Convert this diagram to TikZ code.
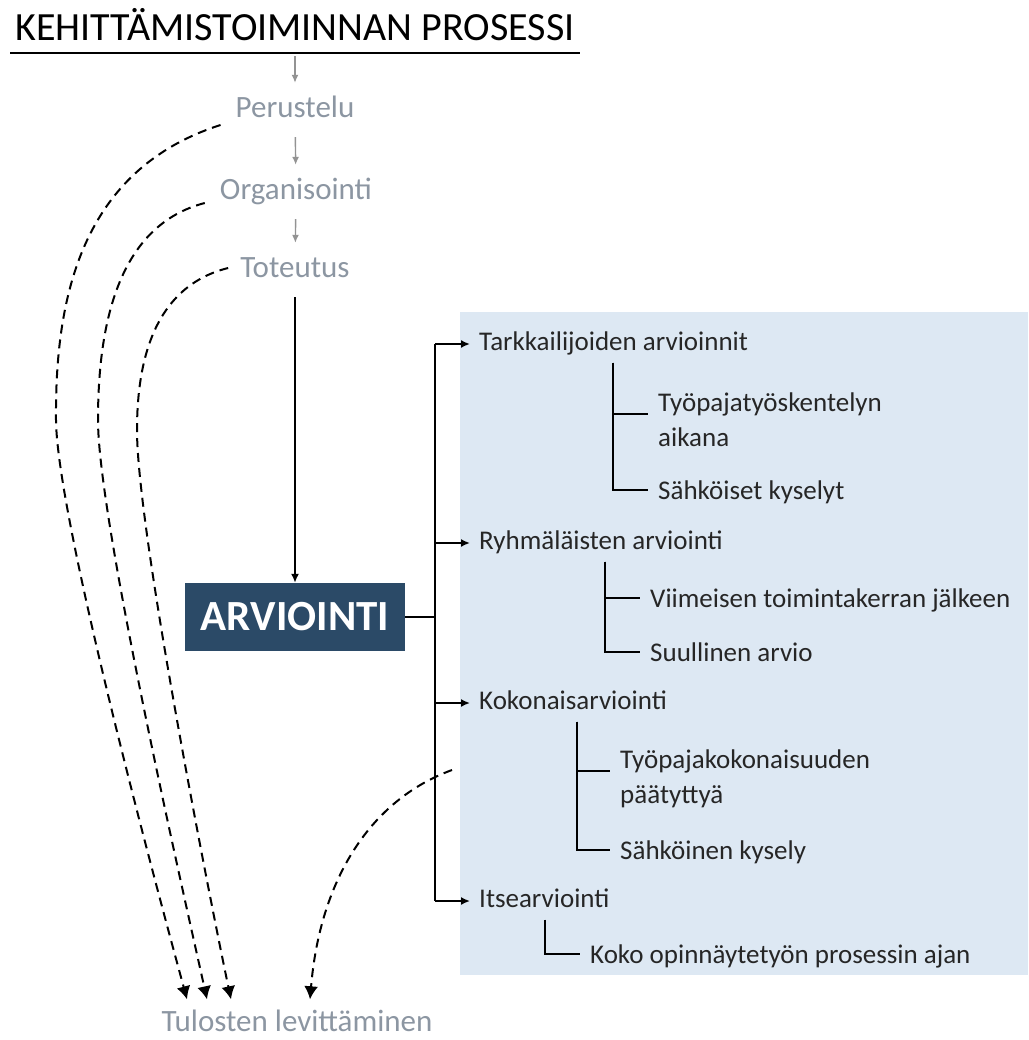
\documentclass[tikz,border=0pt]{standalone}
\usepackage{fontspec}
\setmainfont{Carlito}
\usetikzlibrary{arrows.meta,calc,positioning}
\definecolor{stepgray}{RGB}{140,150,162}
\definecolor{arvblue}{RGB}{43,74,103}
\definecolor{panelblue}{RGB}{221,232,243}
\definecolor{textdark}{RGB}{38,38,38}

\begin{document}
\begin{tikzpicture}[
  x=1pt, y=-1pt,
  >=Latex,
  titlenode/.style={inner xsep=5pt, inner ysep=12pt, text height=28pt, text depth=0pt,
                    font=\fontsize{40}{48}\selectfont},
  stepnode/.style={text=stepgray, inner xsep=0pt, inner ysep=13.5pt, text height=21pt,
                   text depth=6pt, font=\fontsize{31}{37}\selectfont},
  endnode/.style={stepnode, inner ysep=1pt, text depth=0pt},
  arvbox/.style={fill=arvblue, text=white, minimum width=220pt, minimum height=68pt,
                 inner sep=0pt, font=\bfseries\fontsize{43}{50}\selectfont},
  lbl/.style={anchor=west, text=textdark, font=\fontsize{27}{35}\selectfont},
  item/.style={lbl, inner xsep=9pt, inner ysep=2pt, text height=19pt, text depth=6pt},
  subone/.style={item, inner xsep=10pt},
  submulti/.style={lbl, inner xsep=10pt, inner ysep=0pt, align=left},
  steparr/.style={-{Latex[length=8pt,width=7pt]}, line width=1.4pt, draw=gray!85},
  mainarr/.style={-{Latex[length=9pt,width=8pt]}, line width=1.7pt, draw=black},
  brline/.style={line width=1.7pt, draw=black},
  spread/.style={-{Latex[length=13pt,width=14pt]}, line width=2pt,
                 dash pattern=on 9pt off 6pt}
]
  \useasboundingbox (0,0) rectangle (1028,1040);
  \fill[panelblue] (460,312) rectangle (1028,975);

  \node[titlenode] (title) at (295,27) {KEHITTÄMISTOIMINNAN PROSESSI};
  \draw[line width=2pt] (title.south west) -- (title.south east);

  \node[stepnode] (perus) at (295,110) {Perustelu};
  \node[stepnode] (organ) at (296,192) {Organisointi};
  \node[stepnode] (toteu) at (295,270) {Toteutus};
  \node[arvbox] (arv) at (295,617) {ARVIOINTI};
  \node[endnode] (tulos) at (297,1021) {Tulosten levittäminen};

  \draw[steparr, shorten <=3pt] (title) -- (perus);
  \draw[steparr] (perus) -- (organ);
  \draw[steparr] (organ) -- (toteu);
  \draw[mainarr] (toteu) -- (arv);

  \node[item] (tark) at (470,344) {Tarkkailijoiden arvioinnit};
  \node[submulti] (tyo) at (648,420) {Työpajatyöskentelyn\\aikana};
  \node[subone] (sahk1) at (648,493) {Sähköiset kyselyt};

  \node[item] (ryhm) at (470,543) {Ryhmäläisten arviointi};
  \node[subone] (viim) at (640,601) {Viimeisen toimintakerran jälkeen};
  \node[subone] (suul) at (640,655) {Suullinen arvio};

  \node[item] (koko) at (470,703) {Kokonaisarviointi};
  \node[submulti] (tyok) at (610,779) {Työpajakokonaisuuden\\päätyttyä};
  \node[subone] (sahk2) at (610,853) {Sähköinen kysely};

  \node[item] (itse) at (470,901) {Itsearviointi};
  \node[subone] (kokop) at (580,957) {Koko opinnäytetyön prosessin ajan};

  \coordinate (spine) at (435,617);
  \draw[brline] (arv.east) -- (spine);
  \draw[brline] (spine |- tark.west) -- (spine |- itse.west);
  \foreach \n in {tark,ryhm,koko,itse}
    \draw[mainarr] (spine |- \n.west) -- (\n.west);

  \draw[brline] ([shift={(143,4)}]tark.south west) |- ([yshift=6pt]tyo.west);
  \draw[brline] ([shift={(143,4)}]tark.south west) |- ([yshift=3pt]sahk1.west);
  \draw[brline] ([shift={(135,4)}]ryhm.south west) |- ([yshift=3pt]viim.west);
  \draw[brline] ([shift={(135,4)}]ryhm.south west) |- ([yshift=3pt]suul.west);
  \draw[brline] ([shift={(107,4)}]koko.south west) |- ([yshift=8pt]tyok.west);
  \draw[brline] ([shift={(107,4)}]koko.south west) |- ([yshift=3pt]sahk2.west);
  \draw[brline] ([shift={(75,4)}]itse.south west) |- ([yshift=3pt]kokop.west);

  \draw[spread] ([shift={(-15,15)}]perus.west) .. controls (80,170) and (55,300) .. (56,420)
    .. controls (57,520) and (160,900) .. ([shift={(-110,-10)}]tulos.north);
  \draw[spread] ([shift={(-15,11)}]organ.west) .. controls (120,225) and (98,320) .. (98,420)
    .. controls (98,520) and (185,900) .. ([shift={(-90,-10)}]tulos.north);
  \draw[spread] ([shift={(-12,-2)}]toteu.west) .. controls (160,285) and (137,350) .. (137,430)
    .. controls (137,530) and (210,900) .. ([shift={(-66,-10)}]tulos.north);
  \coordinate (kokoout) at (452,770);
  \draw[spread] (kokoout) .. controls (370,800) and (320,880) .. ([shift={(13,-10)}]tulos.north);
\end{tikzpicture}
\end{document}
